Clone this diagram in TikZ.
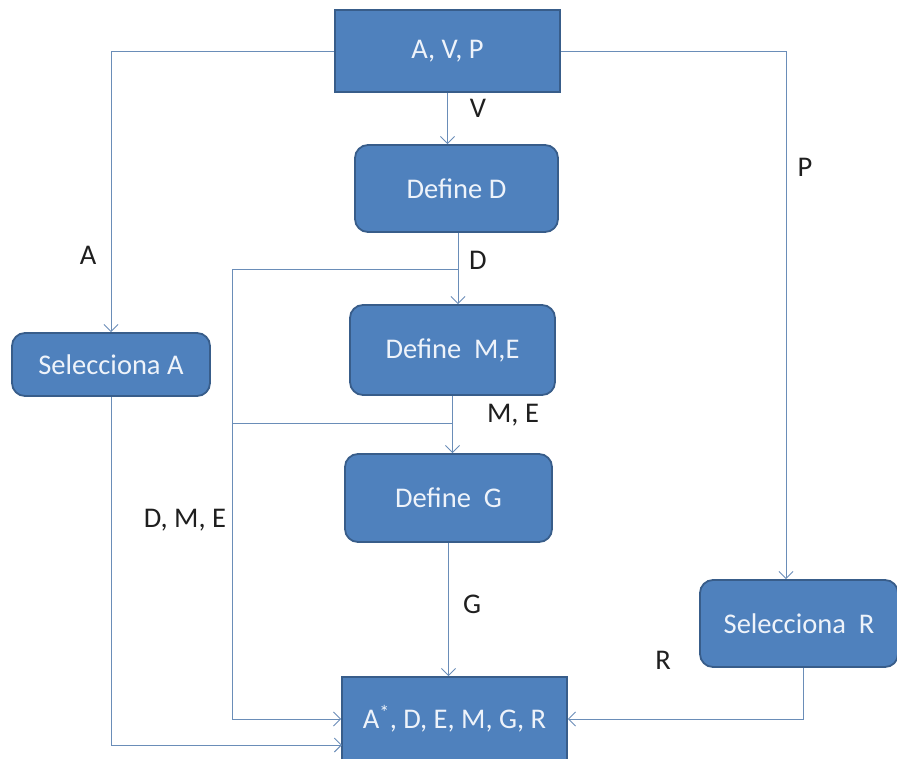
\documentclass[tikz,border=0pt]{standalone}
\usepackage{fontspec}
\setmainfont{Carlito}
\usetikzlibrary{arrows.meta}
\definecolor{boxfill}{HTML}{4F81BD}
\definecolor{boxline}{HTML}{385D8A}
\definecolor{flow}{HTML}{6A8DB8}
\definecolor{boxtext}{HTML}{EEF3FA}
\begin{document}
\begin{tikzpicture}[x=1pt,y=-1pt,
  procbox/.style={draw=boxline,line width=1.8pt,fill=boxfill,text=boxtext,
    rounded corners=13pt,font=\fontsize{28.5}{31}\selectfont,inner sep=0pt},
  databox/.style={procbox,rounded corners=0pt},
  flowline/.style={draw=flow,line width=0.9pt},
  arr/.style={flowline,-{Straight Barb[length=7pt,width=14pt,line width=0.9pt]}},
  lbl/.style={text=black!88,font=\fontsize{28.5}{31}\selectfont,inner sep=0pt}]
\useasboundingbox (0,0) rectangle (897,758);

% process boxes
\node[databox,minimum width=225pt,minimum height=82pt] (top) at (447.5,51) {A, V, P};
\node[procbox,minimum width=203pt,minimum height=87pt] (defD) at (456.5,188.5) {Define D};
\node[procbox,minimum width=205pt,minimum height=90pt] (defME) at (452.5,350) {Define~ M,E};
\node[procbox,minimum width=207pt,minimum height=88pt] (defG) at (448.5,498) {Define~ G};
\node[procbox,minimum width=198pt,minimum height=63pt] (selA) at (111,364.5) {Selecciona A};
\node[procbox,minimum width=198pt,minimum height=87pt] (selR) at (799,623.5) {Selecciona~ R};
\node[databox,minimum width=225pt,minimum height=84pt] (final) at (454.5,719) {A\textsuperscript{*}, D, E, M, G, R};

% helper points for the routing
\coordinate (dx) at (458,0);
\coordinate (jD) at (458,269);
\coordinate (lft) at (232,269);
\coordinate (jM) at (452.5,423);
\coordinate (fA) at (342,745);
\coordinate (px) at (786,0);
\coordinate (rx) at (803,0);

% connectors
\draw[arr] (top.south) -- (top.south |- defD.north);
\draw[arr] (defD.south -| dx) -- (defME.north -| dx);
\draw[arr] (jD) -- (lft) -- (lft |- final.west) -- (final.west);
\draw[arr] (defME.south) -- (defME.south |- defG.north);
\draw[flowline] (jM) -- (lft |- jM);
\draw[arr] (defG.south) -- (defG.south |- final.north);
\draw[arr] (top.west) -| (selA.north);
\draw[arr] (selA.south) |- (fA);
\draw[arr] (top.east) -| (px |- selR.north);
\draw[arr] (selR.south -| rx) |- (final.east);

% flow labels
\node[lbl] (lV) at (478,108) {V};
\node[lbl] (lD) at (478,260) {D};
\node[lbl] (lA) at (88,255) {A};
\node[lbl] (lP) at (805,167) {P};
\node[lbl] (lME) at (513,415) {M, E};
\node[lbl] (lDME) at (185,520) {D, M, E};
\node[lbl] (lG) at (472,604) {G};
\node[lbl] (lR) at (663,660) {R};
\end{tikzpicture}
\end{document}
